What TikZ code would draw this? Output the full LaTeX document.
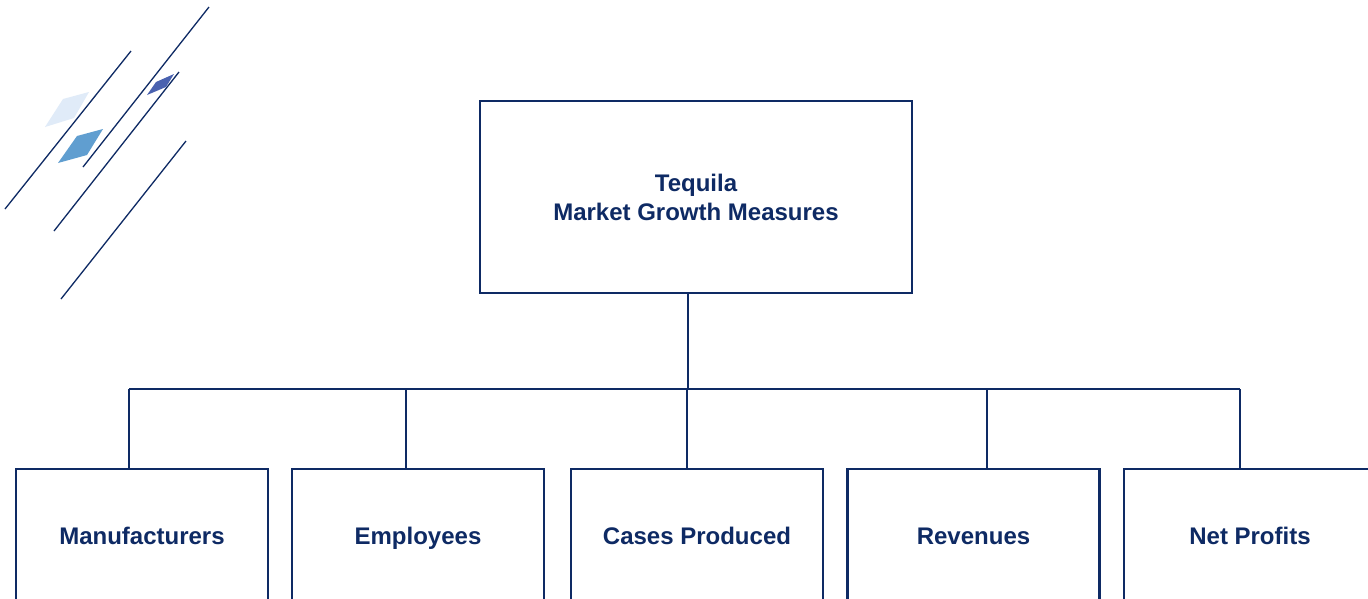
\documentclass[tikz,border=0pt]{standalone}
\usepackage{fontspec}
\setmainfont{Liberation Sans}
\definecolor{navy}{RGB}{14,42,100}
\definecolor{lightd}{RGB}{224,235,248}
\definecolor{midd}{RGB}{96,158,208}
\definecolor{darkd}{RGB}{74,98,176}
\begin{document}
\begin{tikzpicture}[x=1pt,y=-1pt,
  box/.style={draw=navy,line width=2.9pt,fill=white,inner sep=0pt,font=\fontsize{24}{29}\selectfont\bfseries,text=navy,align=center},
  leaf/.style={box,minimum width=252pt,minimum height=134pt,text height=17pt,text depth=0pt},
  conn/.style={draw=navy,line width=2.9pt},
  deco/.style={draw=navy,line width=1.3pt}]
\useasboundingbox[fill=white] (0,0) rectangle (1368,598);
% decoration
\fill[lightd] (45,127) -- (63,99) -- (89,92) -- (74,118) -- cycle;
\fill[midd] (58,163) -- (77,136) -- (103,129) -- (87,155) -- cycle;
\fill[darkd] (147,95) -- (156,82) -- (174,74) -- (166,87) -- cycle;
\draw[deco] (5,209) -- (131,51);
\draw[deco] (209,7) -- (83,167);
\draw[deco] (179,72) -- (54,231);
\draw[deco] (186,141) -- (61,299);
% nodes
\node[box,minimum width=432pt,minimum height=192pt] (top) at (696,197) {Tequila\\Market Growth Measures};
\node[leaf] (b1) at (142,536) {Manufacturers};
\node[leaf] (b2) at (418,536) {Employees};
\node[leaf] (b3) at (697,536) {Cases Produced};
\node[leaf] (b4) at (973.5,536) {Revenues};
\node[leaf] (b5) at (1250,536) {Net Profits};
\coordinate (bus) at (688,389);
\coordinate (l1) at (129,389);
\coordinate (l2) at (406,389);
\coordinate (l3) at (687,389);
\coordinate (l4) at (987,389);
\coordinate (l5) at (1240,389);
\draw[conn] (top.south -| bus) -- (bus);
\draw[conn] (l1) -- (l5);
\draw[conn] (l1) -- (l1 |- b1.north);
\draw[conn] (l2) -- (l2 |- b2.north);
\draw[conn] (l3) -- (l3 |- b3.north);
\draw[conn] (l4) -- (l4 |- b4.north);
\draw[conn] (l5) -- (l5 |- b5.north);
\end{tikzpicture}
\end{document}
